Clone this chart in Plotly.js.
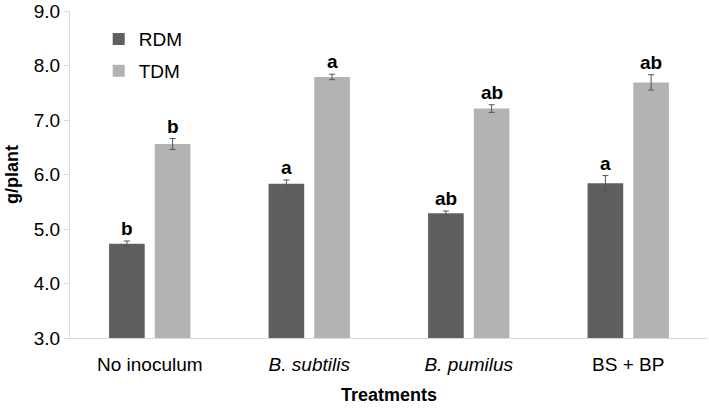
<!DOCTYPE html>
<html>
<head>
<meta charset="utf-8">
<script src="https://cdn.plot.ly/plotly-3.0.1.min.js"></script>
<style>
  html, body { margin: 0; padding: 0; background: #fff; }
  #chart { width: 709px; height: 410px; }
</style>
</head>
<body>
<div id="chart"></div>
<script>
// treatments and values (g/plant)
const treatments = ["No inoculum", "B. subtilis", "B. pumilus", "BS + BP"];
const tickLabels = ["No inoculum", "<i>B. subtilis</i>", "<i>B. pumilus</i>", "BS + BP"];

const rdm = [4.73, 5.83, 5.29, 5.84];
const rdmErr = [0.05, 0.07, 0.04, 0.14];
const rdmLetters = ["b", "a", "ab", "a"];

const tdm = [6.56, 7.79, 7.21, 7.69];
const tdmErr = [0.10, 0.05, 0.07, 0.14];
const tdmLetters = ["b", "a", "ab", "ab"];

const errStyle = { type: "data", visible: true, color: "#555555", thickness: 1, width: 3 };

const data = [
  {
    x: treatments, y: rdm, name: "RDM", type: "bar",
    marker: { color: "#5f5f5f" },
    error_y: Object.assign({ array: rdmErr }, errStyle),
    legendgroup: "r", hoverinfo: "y"
  },
  {
    x: treatments, y: tdm, name: "TDM", type: "bar",
    marker: { color: "#b3b3b3" },
    error_y: Object.assign({ array: tdmErr }, errStyle),
    legendgroup: "t", hoverinfo: "y"
  }
];

// significance letters above the error bars
const annotations = [];
treatments.forEach((t, i) => {
  annotations.push({
    x: t, y: rdm[i] + rdmErr[i], text: "<b>" + rdmLetters[i] + "</b>",
    xshift: -23, yshift: 0, yanchor: "bottom", showarrow: false,
    font: { family: "Liberation Sans, Arial", size: 19, color: "#000" }
  });
  annotations.push({
    x: t, y: tdm[i] + tdmErr[i], text: "<b>" + tdmLetters[i] + "</b>",
    xshift: 23, yshift: 0, yanchor: "bottom", showarrow: false,
    font: { family: "Liberation Sans, Arial", size: 19, color: "#000" }
  });
});

const layout = {
  width: 709, height: 410,
  margin: { l: 70, r: 1, t: 11, b: 72 },
  paper_bgcolor: "#fff", plot_bgcolor: "#fff",
  font: { family: "Liberation Sans, Arial", color: "#000" },
  barmode: "group", bargap: 0.427, bargroupgap: 0.22,
  showlegend: true,
  legend: {
    x: 0.045, y: 0.972, xanchor: "left", yanchor: "top",
    font: { size: 19, color: "#000" }, tracegroupgap: 4,
    bgcolor: "rgba(0,0,0,0)"
  },
  xaxis: {
    type: "category",
    tickvals: treatments, ticktext: tickLabels,
    tickfont: { size: 19 },
    showline: true, linecolor: "#d9d9d9", linewidth: 1,
    ticks: "", showgrid: false, zeroline: false,
    ticklabelstandoff: 9,
    title: { text: "<b>Treatments</b>", font: { size: 18 }, standoff: 14 }
  },
  yaxis: {
    range: [3, 9], dtick: 1, tickformat: ".1f",
    tickfont: { size: 19 },
    showline: true, linecolor: "#d9d9d9", linewidth: 1,
    ticks: "outside", ticklen: 5, tickcolor: "#d9d9d9",
    showgrid: false, zeroline: false,
    title: { text: "<b>g/plant</b>", font: { size: 18 }, standoff: 10 }
  },
  annotations: annotations
};

Plotly.newPlot("chart", data, layout, { displayModeBar: false, staticPlot: true });
</script>
</body>
</html>
